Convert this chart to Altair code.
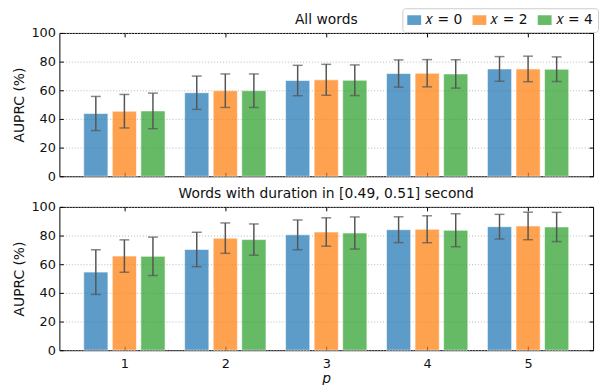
import altair as alt
import pandas as pd

# ---- data ----
p_values = [1, 2, 3, 4, 5]
groups = ["𝑥 = 0", "𝑥 = 2", "𝑥 = 4"]
colors = ["#1f77b4", "#ff7f0e", "#2ca02c"]
y_ticks = [0, 20, 40, 60, 80, 100]
panel_titles = ["All words", "Words with duration in [0.49, 0.51] second"]

# All words
all_x0 = [43.8, 58.3, 66.8, 71.7, 74.9]
all_x0_err = [11.9, 11.6, 10.6, 9.5, 8.6]
all_x2 = [45.4, 59.7, 67.3, 71.9, 74.9]
all_x2_err = [11.7, 11.7, 10.8, 9.5, 8.9]
all_x4 = [45.6, 59.7, 67.0, 71.4, 74.7]
all_x4_err = [12.4, 11.7, 10.7, 9.9, 8.6]

# Words with duration in [0.49, 0.51] second
dur_x0 = [54.5, 70.3, 80.5, 84.1, 86.2]
dur_x0_err = [15.6, 12.0, 10.4, 9.0, 8.6]
dur_x2 = [65.7, 78.2, 82.5, 84.4, 86.7]
dur_x2_err = [11.3, 10.6, 9.9, 9.4, 9.6]
dur_x4 = [65.5, 77.2, 81.8, 83.7, 86.0]
dur_x4_err = [13.4, 10.9, 11.2, 11.5, 10.2]


def make_df(means, errs):
    rows = []
    for k, (m, e) in enumerate(zip(means, errs)):
        for p, v, s in zip(p_values, m, e):
            rows.append({"p": p, "k": k, "g": groups[k], "v": v, "lo": v - s, "hi": v + s})
    return pd.DataFrame(rows)


df_all = make_df([all_x0, all_x2, all_x4], [all_x0_err, all_x2_err, all_x4_err])
df_dur = make_df([dur_x0, dur_x2, dur_x4], [dur_x0_err, dur_x2_err, dur_x4_err])

W, H = 540, 145
FONT = "DejaVu Sans"
TXT = "#111111"
ERRC = "#555555"

xscale = alt.Scale(domain=[0.356, 5.644], nice=False, zero=False)
yscale = alt.Scale(domain=[0, 100], nice=False, zero=True)


def tick_axis(orient, offset, values):
    return alt.Axis(orient=orient, offset=offset, values=values, labels=False,
                    domain=False, grid=False, ticks=True, tickSize=4,
                    tickColor="#000000", tickWidth=1, title=None, minExtent=0)


def panel(df, title, bottom, show_legend):
    base = alt.Chart(df).transform_calculate(
        xc="datum.p + (datum.k - 1) * 0.283",
        xa="datum.p + (datum.k - 1) * 0.283 - 0.12",
        xb="datum.p + (datum.k - 1) * 0.283 + 0.12",
    )

    if bottom:
        main_x = alt.Axis(orient="bottom", values=p_values, labels=True, ticks=False,
                          tickSize=0, domain=False, grid=False, title="p",
                          titleFontStyle="italic", titleFontWeight="normal",
                          labelFontSize=13, titleFontSize=14, labelPadding=8,
                          titlePadding=1, format="d", labelColor=TXT, titleColor=TXT)
    else:
        main_x = alt.Axis(orient="bottom", values=p_values, labels=False, ticks=False,
                          tickSize=0, domain=False, grid=False, title=None, minExtent=0)

    main_y = alt.Axis(orient="left", values=y_ticks, ticks=False, tickSize=0, domain=False,
                      grid=True, gridDash=[1, 2], gridColor="#b0b0b0", gridWidth=0.9,
                      title="AUPRC (%)", titleFontWeight="normal", titleFontSize=14,
                      labelFontSize=13, labelPadding=4, titlePadding=5,
                      labelColor=TXT, titleColor=TXT)

    if show_legend:
        leg = alt.Legend(title=None, orient="none", legendX=347, legendY=-25,
                         direction="horizontal",
                         symbolType="M-1,-0.7L1,-0.7L1,0.7L-1,0.7Z", symbolSize=196,
                         symbolStrokeWidth=0, symbolOpacity=0.72,
                         labelFontSize=14, labelFont=FONT, labelColor=TXT,
                         labelOffset=4, columnPadding=10, padding=5,
                         strokeColor="#cccccc", fillColor="white", cornerRadius=3)
    else:
        leg = None

    bars = base.mark_bar(opacity=0.72, stroke="white", strokeWidth=1, strokeOpacity=0.6).encode(
        x=alt.X("xa:Q", scale=xscale, axis=main_x),
        x2="xb:Q",
        y=alt.Y("v:Q", scale=yscale, axis=main_y),
        y2=alt.datum(0),
        color=alt.Color("g:N", scale=alt.Scale(domain=groups, range=colors), legend=leg),
    )

    errs = base.mark_rule(color=ERRC, strokeWidth=1.5).encode(
        x=alt.X("xc:Q", scale=xscale, axis=tick_axis("top", -H, p_values)),
        y=alt.Y("lo:Q", scale=yscale, axis=tick_axis("right", -W, y_ticks)),
        y2="hi:Q",
    )

    caps = base.transform_fold(["lo", "hi"], as_=["which", "yv"]).mark_tick(
        color=ERRC, thickness=1.5, size=10, orient="horizontal"
    ).encode(
        x=alt.X("xc:Q", scale=xscale, axis=tick_axis("bottom", -H, p_values)),
        y=alt.Y("yv:Q", scale=yscale, axis=tick_axis("left", -W, y_ticks)),
    )

    heading = alt.Chart(pd.DataFrame({"t": [title]})).mark_text(
        font=FONT, fontSize=14, color=TXT, baseline="middle", align="center"
    ).encode(
        text="t:N", x=alt.value(W / 2), y=alt.value(-13)
    )

    return alt.layer(bars, errs, caps, heading).resolve_axis(
        x="independent", y="independent"
    ).properties(
        width=W, height=H,
        view=alt.ViewBackground(stroke="#000000", strokeWidth=1),
    )


top = panel(df_all, panel_titles[0], bottom=False, show_legend=True)
bot = panel(df_dur, panel_titles[1], bottom=True, show_legend=False)

chart = alt.vconcat(top, bot, spacing=2).resolve_legend(color="independent").properties(
    padding={"left": 3, "top": -3, "right": 1, "bottom": 0}
).configure_view(
    stroke="#000000", strokeWidth=1
).configure_axis(
    labelFont=FONT, titleFont=FONT
).configure_legend(
    labelFont=FONT
)

chart.save("out.html", embed_options={"renderer": "svg", "actions": False})
